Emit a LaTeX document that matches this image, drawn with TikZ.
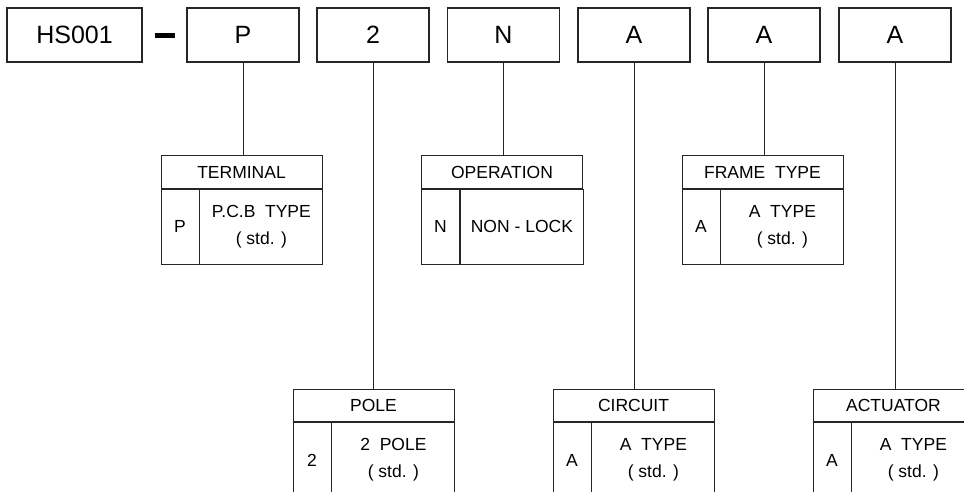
\documentclass[tikz,border=0pt]{standalone}
\usepackage{fontspec}
\setmainfont{Liberation Sans}
\usetikzlibrary{positioning}

\begin{document}
\begin{tikzpicture}[line width=0.9pt, draw=black!85,
  code/.style={draw, line width=1.1pt, minimum width=112pt, minimum height=54pt, inner sep=0pt, font=\fontsize{25}{30}\selectfont},
  head/.style={draw, minimum width=161pt, minimum height=32.5pt, inner sep=0pt, font=\fontsize{17.5}{21}\selectfont},
  key/.style={draw, minimum width=38pt, minimum height=75pt, inner sep=0pt, font=\fontsize{17.5}{21}\selectfont},
  val/.style={draw, minimum width=123pt, minimum height=75pt, inner sep=0pt, align=center, font=\fontsize{17.5}{27}\selectfont}]
  \useasboundingbox (0pt, 0pt) rectangle (964pt, -491pt);
  \clip (0pt, 0pt) rectangle (964pt, -491pt);
  % part number
  \draw (74.5pt, -35.0pt)node[code, minimum width=135pt](hs){HS001};
  \draw (165.0pt, -35.0pt)node[fill=black, minimum width=20pt, minimum height=5pt, inner sep=0pt](dash){};
  \draw (243.0pt, -35.0pt)node[code](cp){P};
  \draw (373.0pt, -35.0pt)node[code](cpole){2};
  \draw (503.5pt, -35.0pt)node[code](cn){N};
  \draw (634.0pt, -35.0pt)node[code](ccirc){A};
  \draw (764.0pt, -35.0pt)node[code](cframe){A};
  \draw (895.0pt, -35.0pt)node[code](cact){A};
  % upper tables
  \draw (241.5pt, -172.0pt)node[head](term){TERMINAL};
  \node[key, below right=0pt of term.south west](termkey){P};
  \node[val, below right=0pt of termkey.north east](termval){P.C.B~~TYPE\\( std. )};
  \draw (502.0pt, -172.0pt)node[head](oper){OPERATION};
  \node[key, below right=0pt of oper.south west](operkey){N};
  \node[val, below right=0pt of operkey.north east](operval){NON - LOCK};
  \draw (762.5pt, -172.0pt)node[head](frame){FRAME~~TYPE};
  \node[key, below right=0pt of frame.south west](framekey){A};
  \node[val, below right=0pt of framekey.north east](frameval){A~~TYPE\\( std. )};
  % lower tables
  \draw (373.5pt, -405.5pt)node[head](pole){POLE};
  \node[key, below right=0pt of pole.south west](polekey){2};
  \node[val, below right=0pt of polekey.north east](poleval){2~~POLE\\( std. )};
  \draw (633.5pt, -405.5pt)node[head](circ){CIRCUIT};
  \node[key, below right=0pt of circ.south west](circkey){A};
  \node[val, below right=0pt of circkey.north east](circval){A~~TYPE\\( std. )};
  \draw (893.5pt, -405.5pt)node[head](act){ACTUATOR};
  \node[key, below right=0pt of act.south west](actkey){A};
  \node[val, below right=0pt of actkey.north east](actval){A~~TYPE\\( std. )};
  % leaders
  \draw (cp.south) -- (cp.south |- term.north);
  \draw (cpole.south) -- (cpole.south |- pole.north);
  \draw (cn.south) -- (cn.south |- oper.north);
  \draw (ccirc.south) -- (ccirc.south |- circ.north);
  \draw (cframe.south) -- (cframe.south |- frame.north);
  \draw (cact.south) -- (cact.south |- act.north);
\end{tikzpicture}
\end{document}
